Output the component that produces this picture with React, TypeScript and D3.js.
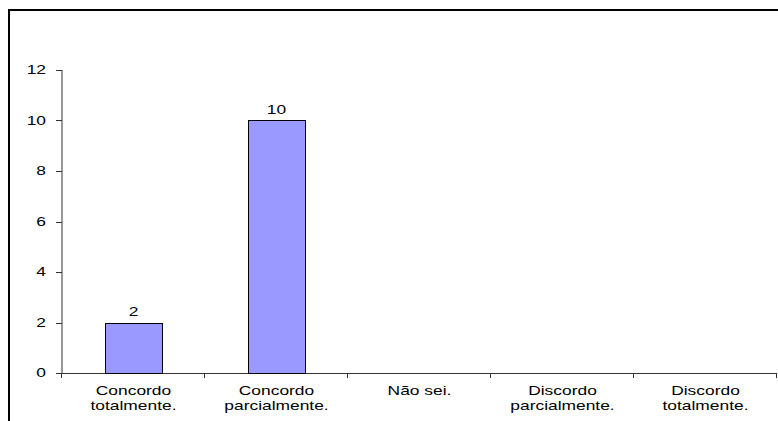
import React, { useRef, useEffect } from "react";
import * as d3 from "d3";

// chart data
const categories = [
  ["Concordo", "totalmente."],
  ["Concordo", "parcialmente."],
  ["Não sei."],
  ["Discordo", "parcialmente."],
  ["Discordo", "totalmente."],
];
const values = [2, 10, 0, 0, 0];
const yTicks = [0, 2, 4, 6, 8, 10, 12];

const App = () => {
  const ref = useRef<SVGSVGElement>(null);
  const width = 778;
  const height = 421;
  const margin = { left: 62, right: 1, top: 70, bottom: 48 };

  useEffect(() => {
    const svg = d3.select(ref.current);
    svg.selectAll("*").remove();

    const font = "Liberation Sans, Arial, sans-serif";
    const stretch = 1.45; // the original text is drawn wide

    const label = (g, px, py, txt, anchor) =>
      g
        .append("text")
        .attr("transform", `translate(${px},${py}) scale(${stretch},1)`)
        .attr("text-anchor", anchor)
        .attr("font-family", font)
        .attr("font-size", "12px")
        .attr("fill", "#000")
        .text(txt);

    // outer frame (clipped at right/bottom like the original)
    svg
      .append("path")
      .attr("d", `M9,${height + 2} L9,10 L${width + 2},10`)
      .attr("fill", "none")
      .attr("stroke", "#000")
      .attr("stroke-width", 2);

    const keys = categories.map((c, i) => String(i));
    const x = d3
      .scaleBand()
      .domain(keys)
      .range([margin.left, width - margin.right])
      .paddingInner(0.6)
      .paddingOuter(0.3);
    const step = x.step();
    const x0 = margin.left;

    const y = d3
      .scaleLinear()
      .domain([0, 12])
      .range([height - margin.bottom, margin.top]);

    const axisColor = "#333";

    // y axis
    const yAxis = svg.append("g").attr("transform", `translate(${margin.left},0)`);
    yAxis
      .append("line")
      .attr("y1", y(0))
      .attr("y2", y(12))
      .attr("stroke", axisColor);
    yTicks.forEach((t) => {
      yAxis
        .append("line")
        .attr("x1", -6)
        .attr("x2", 0)
        .attr("y1", Math.round(y(t)) + 0.5)
        .attr("y2", Math.round(y(t)) + 0.5)
        .attr("stroke", axisColor);
      label(yAxis, -16, y(t) + 4, t, "end");
    });

    // x axis
    const xAxis = svg.append("g");
    xAxis
      .append("line")
      .attr("x1", margin.left)
      .attr("x2", width - margin.right)
      .attr("y1", Math.round(y(0)) + 0.5)
      .attr("y2", Math.round(y(0)) + 0.5)
      .attr("stroke", axisColor);
    d3.range(categories.length + 1).forEach((i) => {
      const px = Math.round(x0 + i * step) - 0.5;
      xAxis
        .append("line")
        .attr("x1", px)
        .attr("x2", px)
        .attr("y1", y(0))
        .attr("y2", y(0) + 5)
        .attr("stroke", axisColor);
    });
    categories.forEach((lines, i) => {
      lines.forEach((l, j) => {
        label(xAxis, x(String(i))! + x.bandwidth() / 2, y(0) + 22 + j * 14.5, l, "middle");
      });
    });

    // bars
    const bars = svg.append("g");
    values.forEach((v, i) => {
      if (v === 0) return;
      bars
        .append("rect")
        .attr("x", Math.round(x(String(i))!) + 0.5)
        .attr("y", Math.round(y(v)) + 0.5)
        .attr("width", Math.round(x.bandwidth()))
        .attr("height", Math.round(y(0)) - Math.round(y(v)))
        .attr("fill", "#9999FF")
        .attr("stroke", "#000")
        .attr("stroke-width", 1);
      label(bars, x(String(i))! + x.bandwidth() / 2, y(v) - 7, v, "middle");
    });
  }, []);

  return (
    <svg
      ref={ref}
      width={width}
      height={height}
      style={{ position: "absolute", left: 0, top: 0, background: "#fff" }}
    ></svg>
  );
};

export default App;
